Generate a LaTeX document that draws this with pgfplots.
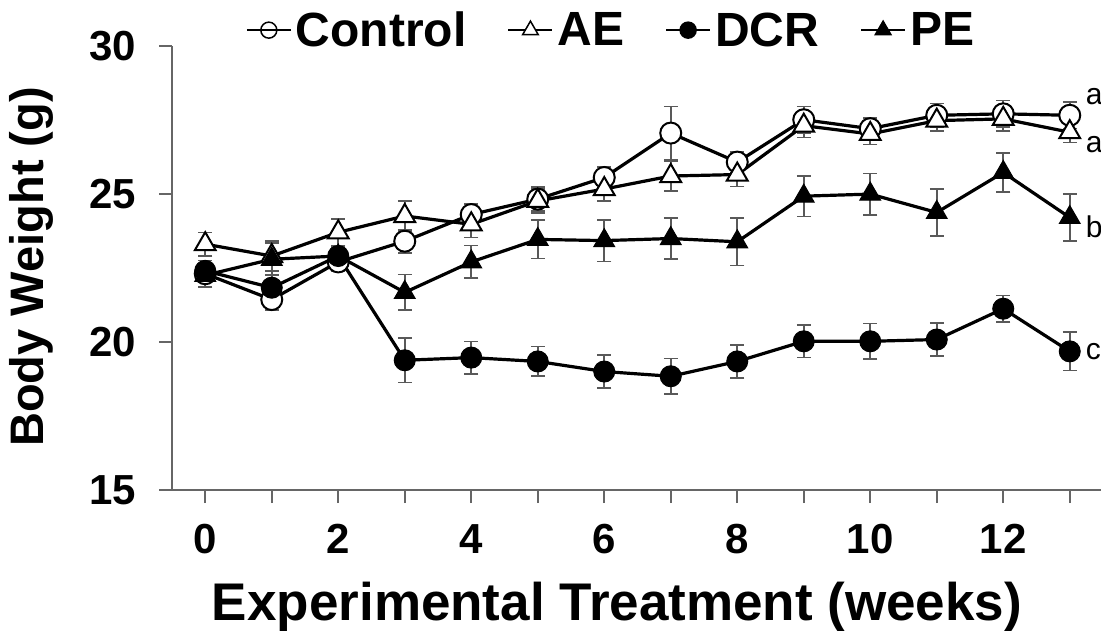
\documentclass[border=0pt]{standalone}
\usepackage{fontspec}
\setmainfont{Liberation Sans}
\usepackage{pgfplots}
\pgfplotsset{compat=1.18}
\usepackage{pgfplotstable}

\pgfplotstableread{
x  ctl   ctle  ae    aee   dcr   dcre  pe    pee
0  22.30 0.30  23.30 0.40  22.40 0.35  22.25 0.40
1  21.43 0.35  22.90 0.50  21.83 0.45  22.79 0.55
2  22.70 0.30  23.70 0.45  22.90 0.30  22.90 0.30
3  23.40 0.40  24.25 0.50  19.38 0.75  21.67 0.60
4  24.30 0.35  23.97 0.45  19.47 0.55  22.70 0.55
5  24.82 0.40  24.76 0.40  19.34 0.50  23.46 0.65
6  25.55 0.35  25.16 0.40  19.00 0.55  23.42 0.70
7  27.05 0.90  25.60 0.50  18.84 0.60  23.49 0.70
8  26.07 0.35  25.65 0.40  19.34 0.55  23.38 0.80
9  27.50 0.45  27.30 0.40  20.02 0.55  24.92 0.68
10 27.20 0.35  27.02 0.35  20.02 0.60  24.99 0.70
11 27.65 0.40  27.47 0.35  20.08 0.55  24.37 0.80
12 27.70 0.45  27.53 0.40  21.12 0.45  25.72 0.65
13 27.65 0.45  27.08 0.35  19.68 0.65  24.20 0.80
}\data

\begin{document}
\begin{tikzpicture}[x=1pt,y=1pt]
\useasboundingbox (0,0) rectangle (1101,633);
\begin{axis}[
  at={(172pt,143pt)}, anchor=south west, scale only axis,
  width=929pt, height=444.3pt,
  xmin=-0.5, xmax=13.47, ymin=15, ymax=30,
  axis x line=bottom, axis y line=left,
  axis line style={-, line width=2pt, color=black!60},
  xtick={0,1,...,13},
  xticklabels={0,,2,,4,,6,,8,,10,,12,},
  ytick={15,20,25,30},
  tick align=outside, major tick length=13pt,
  tick style={line width=2pt, color=black!60},
  tick label style={font=\fontsize{42}{42}\selectfont\bfseries, inner sep=0pt},
  /pgf/number format/assume math mode=true,
  yticklabel style={xshift=-23pt},
  xticklabel style={yshift=-21pt},
  clip=false,
  legend columns=4,
  legend style={at={(0.472,1.035)}, anchor=center, draw=none, fill=none,
    font=\fontsize{48}{48}\selectfont\bfseries,
    nodes={inner sep=1pt},
    /tikz/every odd column/.append style={column sep=3pt},
    /tikz/every even column/.append style={column sep=40pt}},
  legend image code/.code={
    \draw[line width=2pt] (0pt,0pt) -- (44pt,0pt);
    \draw[line width=1.5pt] plot coordinates {(22pt,0pt)};},
  every axis plot/.append style={line width=3.2pt, black},
  error bars/error bar style={line width=1.6pt, color=black!65},
  error bars/error mark options={rotate=90, mark size=7pt, line width=1.6pt, color=black!65},
]
\addlegendimage{mark=o, mark size=8pt, mark options={fill=white, line width=1.5pt}}
\addlegendentry{Control}
\addlegendimage{mark=triangle*, mark size=9pt, mark options={fill=white, line width=1.5pt}}
\addlegendentry{AE}
\addlegendimage{mark=*, mark size=8pt, mark options={fill=black}}
\addlegendentry{DCR}
\addlegendimage{mark=triangle*, mark size=9pt, mark options={fill=black}}
\addlegendentry{PE}

\addplot[forget plot, mark=*, mark size=10.5pt, mark options={fill=white, draw=black, line width=2pt},
  error bars/.cd, y dir=both, y explicit]
  table[x=x, y=ctl, y error=ctle] {\data};
\addplot[forget plot, mark=triangle*, mark size=12pt, mark options={fill=white, draw=black, line width=2pt},
  error bars/.cd, y dir=both, y explicit]
  table[x=x, y=ae, y error=aee] {\data};
\addplot[forget plot, mark=triangle*, mark size=12pt, mark options={fill=black, draw=black, line width=1pt},
  error bars/.cd, y dir=both, y explicit]
  table[x=x, y=pe, y error=pee] {\data};
\addplot[forget plot, mark=*, mark size=10.5pt, mark options={fill=black, draw=black, line width=1pt},
  error bars/.cd, y dir=both, y explicit]
  table[x=x, y=dcr, y error=dcre] {\data};

\node[anchor=base west, font=\fontsize{30}{30}\selectfont] at (axis cs:13.19,28.00) {a};
\node[anchor=base west, font=\fontsize{30}{30}\selectfont] at (axis cs:13.19,26.41) {a};
\node[anchor=base west, font=\fontsize{30}{30}\selectfont] at (axis cs:13.19,23.54) {b};
\node[anchor=base west, font=\fontsize{30}{30}\selectfont] at (axis cs:13.19,19.39) {c};
\end{axis}
\node[rotate=90, font=\fontsize{47}{47}\selectfont\bfseries] at (31,366) {Body Weight (g)};
\node[font=\fontsize{53}{53}\selectfont\bfseries] at (617,26) {Experimental Treatment (weeks)};
\end{tikzpicture}
\end{document}
